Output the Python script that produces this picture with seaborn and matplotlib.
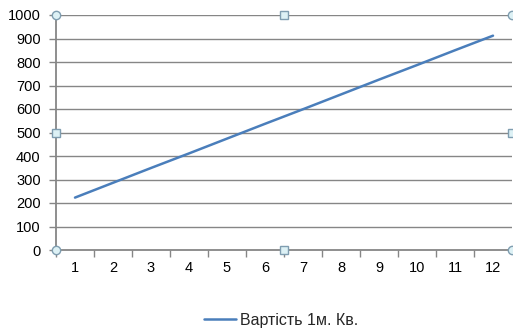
import matplotlib
matplotlib.use("Agg")
import matplotlib.pyplot as plt
import seaborn as sns
import pandas as pd

# Monthly cost per square metre
months = [1, 2, 3, 4, 5, 6, 7, 8, 9, 10, 11, 12]
cost = [223, 286, 349, 411, 474, 537, 599, 662, 725, 787, 850, 912]
series_name = "Вартість 1м. Кв."
y_ticks = [0, 100, 200, 300, 400, 500, 600, 700, 800, 900, 1000]

df = pd.DataFrame({"month": months, "cost": cost, "series": series_name})

sns.set_theme(style="white")
plt.rcParams["font.family"] = ["Liberation Sans", "DejaVu Sans"]

fig = plt.figure(figsize=(5.13, 3.30), dpi=100)
ax = fig.add_axes([56 / 513, 80 / 330, 456 / 513, 235 / 330])

grid_col = "#868686"
for v in y_ticks[1:]:
    ax.axhline(v, color=grid_col, lw=1.0, zorder=0)

sns.lineplot(data=df, x="month", y="cost", hue="series",
             palette=["#4A7EBB"], linewidth=1.8, ax=ax, legend=True)

ax.set_xlim(0.5, 12.5)
ax.set_ylim(0, 1000)
ax.set_xticks(months)
ax.set_xticks([m + 0.5 for m in months[:-1]] + [0.5], minor=True)
ax.set_yticks(y_ticks)
ax.set_xlabel("")
ax.set_ylabel("")

for s in ["top", "right"]:
    ax.spines[s].set_visible(False)
for s in ["left", "bottom"]:
    ax.spines[s].set_color(grid_col)
    ax.spines[s].set_linewidth(1.3)

ax.tick_params(axis="x", which="major", length=0, pad=8, labelsize=10.5, labelcolor="black")
ax.tick_params(axis="x", which="minor", length=5, width=1, color=grid_col, direction="out", bottom=True)
ax.tick_params(axis="y", length=5, width=1, color=grid_col, direction="out", left=True, pad=6,
               labelsize=10.5, labelcolor="black")

# Plot-area selection handles
handle_kw = dict(transform=ax.transAxes, clip_on=False, zorder=5,
                 markerfacecolor="#DDF1F5", markeredgecolor="#7F9DB0", markeredgewidth=1.0)
for (hx, hy) in [(0, 0), (0, 1), (1, 0), (1, 1)]:
    ax.plot([hx], [hy], marker="o", markersize=6, **handle_kw)
for (hx, hy) in [(0.5, 0), (0.5, 1), (0, 0.5), (1, 0.5)]:
    ax.plot([hx], [hy], marker="s", markersize=5.5, **handle_kw)

handles, labels = ax.get_legend_handles_labels()
ax.get_legend().remove()
fig.legend(handles, labels, loc="center", bbox_to_anchor=(281 / 513, 1 - 320 / 330),
           frameon=False, fontsize=11.5, handlelength=2.0, handletextpad=0.25)

fig.savefig("out.png", dpi=100)
